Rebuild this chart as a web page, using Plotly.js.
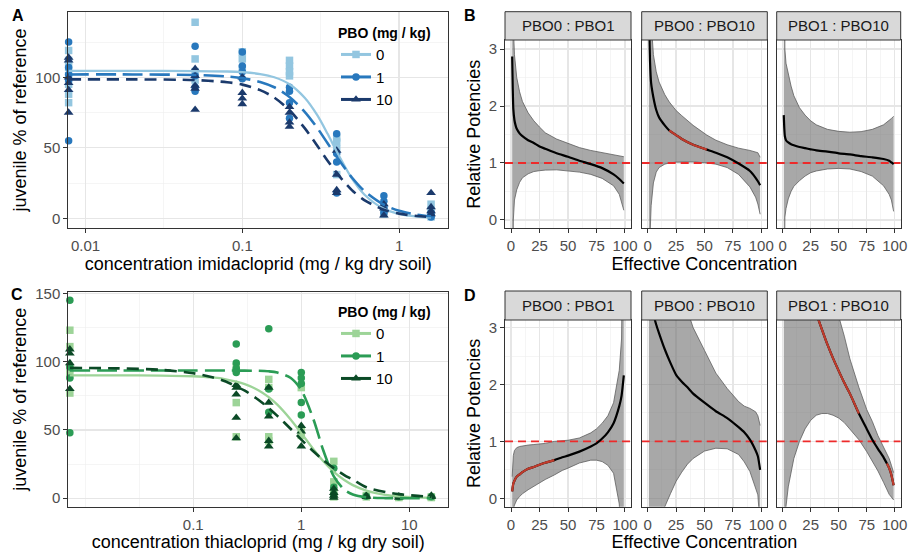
<!DOCTYPE html>
<html><head><meta charset="utf-8">
<script src="https://cdn.plot.ly/plotly-3.0.1.min.js"></script>
<style>html,body{margin:0;padding:0;background:#fff}#chart{width:912px;height:552px}</style>
</head><body><div id="chart"></div>
<script>
// ================= DATA =================
// Panel A: imidacloprid (control plotted at left edge)
const imiX0 = [0.0078,0.0078,0.0078,0.0078,0.0078,0.0078,0.0078, 0.05,0.05,0.05,0.05, 0.1,0.1,0.1, 0.2,0.2,0.2,0.2, 0.4,0.4,0.4,0.4, 0.8,0.8,0.8, 1.6,1.6,1.6,1.6];
const imiY0 = [119,112,107,101,95,88,82, 139,113,104,98, 118,113,106, 112,108,104,101, 57,54,49,31, 7,5,3, 10,6,3,1];
const imiX1 = [0.0078,0.0078,0.0078,0.0078,0.0078, 0.05,0.05,0.05,0.05, 0.1,0.1,0.1,0.1, 0.2,0.2,0.2,0.2, 0.4,0.4,0.4,0.4, 0.8,0.8,0.8,0.8, 1.6,1.6,1.6];
const imiY1 = [125,107,102,98,55, 122,101,93,90, 118,108,104,99, 93,90,82,71, 60,46,40,18, 16,12,8,4, 4,2,1];
const imiX10 = [0.0078,0.0078,0.0078,0.0078,0.0078,0.0078, 0.05,0.05,0.05,0.05,0.05, 0.1,0.1,0.1,0.1, 0.2,0.2,0.2,0.2, 0.4,0.4,0.4,0.4, 0.8,0.8,0.8, 1.6,1.6,1.6,1.6];
const imiY10 = [114,112,100,96,91,75, 106,101,94,92,77, 100,89,85,81, 79,75,68,65, 48,31,20,18, 10,7,2, 18,8,5,3];
// fitted curves panel A
const imiCurveX = [0.0078,0.02,0.05,0.08,0.1,0.13,0.16,0.2,0.25,0.3,0.35,0.4,0.5,0.6,0.8,1.0,1.3,1.6];
const imiFit0  = [104.5,104.5,104.4,104.1,103.6,102.3,100.0,95.1,85.5,73.3,59.9,47.4,28.3,16.9,6.7,3.1,1.2,0.6];
const imiFit1  = [102,102,101.6,100.6,99.4,96.7,92.9,86.0,75.5,64.2,53.2,43.6,28.9,19.4,9.6,5.3,2.6,1.4];
const imiFit10 = [98.5,98.5,98.0,96.5,94.8,90.9,85.6,76.6,63.9,51.6,40.8,32.1,20.0,12.9,6.1,3.3,1.6,0.9];

// Panel C: thiacloprid
const thiX0 = [0.0072,0.0072,0.0072,0.0072,0.0072, 0.25,0.25,0.25, 0.5,0.5,0.5,0.5, 1,1,1, 2,2,2,2, 4,4, 8,8, 16,16];
const thiY0 = [123,111,95,90,77, 96,70,45, 87,81,45,42, 81,50,46, 27,12,5,1, 2,1, 1,0.5, 1,0.5];
const thiX1 = [0.0072,0.0072,0.0072,0.0072, 0.25,0.25,0.25,0.25, 0.5,0.5,0.5, 1,1,1,1,1, 2,2,2, 4, 8, 16];
const thiY1 = [145,96,88,48, 113,99,95,92, 124,80,63, 92,88,84,70,61, 22,8,3, 1.5, 1, 1];
const thiX10 = [0.0072,0.0072,0.0072,0.0072, 0.25,0.25,0.25,0.25,0.25, 0.5,0.5,0.5,0.5,0.5, 1,1,1, 2,2,2,2, 4,4, 8,8, 16,16];
const thiY10 = [109,106,99,80, 83,81,76,59,44, 81,70,60,42,38, 53,49,38, 7,4,2,0.5, 2,1, 1.5,0.5, 2,1];
const thiCurveX = [0.0072,0.02,0.05,0.1,0.15,0.2,0.3,0.4,0.5,0.6,0.8,1.0,1.3,1.6,2,2.5,3,4,6,8,12,16];
const thiFit0  = [90,90,89.8,89.3,88.4,87.1,83.6,79.1,74.0,68.5,57.5,47.6,35.7,27.1,19.3,13.3,9.6,5.6,2.5,1.4,0.6,0.35];
const thiFit1  = [93.5,93.5,93.5,93.5,93.5,93.5,93.4,93.3,92.9,92.0,88.0,79.2,57.5,34.9,16.0,6.3,2.7,0.7,0.1,0.05,0.01,0];
const thiFit10 = [95.4,95.1,94.0,91.5,88.6,85.4,78.7,72.1,66.0,60.3,50.7,42.9,34.2,27.9,22.0,17.0,13.6,8.0,4.5,3.0,1.7,1.1];

const pboLevels = ['0','1','10'];

// Panels B / D: relative potencies vs effective concentration
const refLevel = 1;
const ecB1 = [1,1.5,2,3,4,5,7.5,10,15,20,25,30,40,50,60,70,80,90,95,99];
const rpB1 = [2.87,2.3,1.95,1.75,1.66,1.6,1.52,1.47,1.40,1.35,1.29,1.25,1.17,1.11,1.04,0.98,0.91,0.80,0.72,0.64];
const upB1 = [8,4.5,3.4,2.9,2.65,2.5,2.25,2.08,1.88,1.74,1.63,1.53,1.42,1.34,1.27,1.22,1.18,1.15,1.13,1.11];
const loB1 = [-3,-0.5,0.0,0.35,0.45,0.53,0.66,0.74,0.81,0.85,0.865,0.875,0.88,0.865,0.84,0.80,0.73,0.60,0.45,0.17];
const sigB1 = [];

const ecB2 = [1,1.5,2,3,5,7.5,10,15,19,25,30,40,52,60,70,80,90,95,97,99];
const rpB2 = [4.5,3.3,2.8,2.4,2.15,1.93,1.8,1.66,1.57,1.49,1.42,1.32,1.235,1.18,1.10,0.99,0.86,0.74,0.68,0.61];
const upB2 = [10,6,4.5,3.5,2.9,2.6,2.42,2.2,2.07,1.92,1.83,1.66,1.49,1.40,1.32,1.26,1.22,1.2,1.18,1.1];
const loB2 = [-3,-1,-0.3,0.25,0.65,0.84,0.92,0.98,1.0,1.015,1.02,1.02,1.0,0.98,0.92,0.80,0.58,0.40,0.28,0.1];
const sigB2 = [[19,52]];

const ecB3 = [1,1.5,2,3,5,7.5,10,15,20,25,30,40,50,60,70,80,90,95,97,99];
const rpB3 = [1.84,1.6,1.47,1.40,1.36,1.33,1.31,1.28,1.26,1.24,1.22,1.20,1.17,1.15,1.12,1.10,1.07,1.04,1.01,0.98];
const upB3 = [10,3.3,3.0,2.75,2.55,2.35,2.18,1.97,1.84,1.74,1.67,1.59,1.555,1.54,1.55,1.59,1.67,1.74,1.78,1.82];
const loB3 = [-3,-0.2,0.05,0.2,0.37,0.5,0.59,0.69,0.77,0.83,0.86,0.895,0.905,0.895,0.85,0.77,0.6,0.45,0.35,0.15];
const sigB3 = [];

const ecD1 = [1,1.5,2,3,5,7.5,10,15,20,25,30,38,45,50,60,70,75,80,85,90,95,97,99];
const rpD1 = [0.12,0.2,0.26,0.31,0.38,0.42,0.46,0.52,0.55,0.59,0.625,0.67,0.72,0.75,0.82,0.91,0.965,1.05,1.16,1.32,1.62,1.8,2.16];
const upD1 = [0.38,0.6,0.75,0.84,0.89,0.91,0.92,0.935,0.945,0.95,0.965,1.0,1.01,1.02,1.06,1.15,1.22,1.32,1.45,1.68,2.25,2.8,6];
const loD1 = [-1,-0.5,-0.2,-0.12,-0.03,0.03,0.08,0.15,0.21,0.27,0.33,0.41,0.49,0.53,0.62,0.67,0.67,0.645,0.58,0.44,-0.1,-1,-5];
const sigD1 = [[1,38]];

const ecD2 = [1,3,5,7.5,10,15,20,25,30,35,40,50,60,70,80,85,90,95,97,99];
const rpD2 = [5,3.7,3.25,3.05,2.9,2.62,2.38,2.17,2.05,1.95,1.84,1.68,1.53,1.41,1.25,1.16,1.03,0.84,0.74,0.5];
const upD2 = [20,14,10,8,7,5.5,4.6,4.0,3.6,3.3,3.0,2.6,2.2,1.93,1.7,1.62,1.58,1.52,1.45,1.28];
const loD2 = [-10,-6,-3,-1.8,-0.9,-0.15,0.08,0.3,0.46,0.6,0.7,0.83,0.88,0.87,0.77,0.64,0.47,0.2,0.06,-0.5];
const sigD2 = [];

const ecD3 = [1,2,3,5,7.5,10,15,20,25,30,35,40,45,50,55,60,68,75,80,85,90,93,95,97,99];
const rpD3 = [8,7,6.3,5.5,5,4.6,4.2,3.9,3.55,3.25,2.97,2.7,2.46,2.24,2.03,1.84,1.49,1.22,1.03,0.87,0.72,0.61,0.53,0.41,0.23];
const upD3 = [20,18,16,13,11,9.5,7.5,6.3,5.4,4.7,4.2,3.8,3.5,3.2,2.85,2.45,1.95,1.56,1.35,1.1,0.9,0.79,0.7,0.58,0.45];
const loD3 = [-5,-1.5,-0.14,0.2,0.47,0.7,1.0,1.22,1.37,1.46,1.49,1.49,1.46,1.41,1.33,1.22,1.03,0.82,0.66,0.48,0.28,0.15,0.07,0.02,-0.03];
const sigD3 = [[1,68],[93,99]];

const facetLabels = ['PBO0 : PBO1','PBO0 : PBO10','PBO1 : PBO10'];

// ================= STYLE / BUILD =================
const FONT = 'Liberation Sans, Arial, Helvetica, sans-serif';
const blues = ['#93c6e0', '#2878bd', '#1b3a6c'];
const greens = ['#9dd498', '#2b9c55', '#0b4a26'];
const symbols = ['square', 'circle', 'triangle-up'];
const msizes = [7.5, 7.5, 8.5];
const dashes = ['solid', '20px,7px', '12px,7px'];
const effRange = [-5.3, 105.3];

const traces = [];

function dosePanel(xa, ya, xs, ys, curveX, fits, cols, legendId) {
  for (let g = 0; g < 3; g++) {
    traces.push({type:'scatter', mode:'markers', x: xs[g], y: ys[g], xaxis: xa, yaxis: ya,
      marker:{symbol: symbols[g], size: msizes[g], color: cols[g], line:{width:0}},
      cliponaxis:false, showlegend:false, hoverinfo:'skip'});
  }
  for (let g = 0; g < 3; g++) {
    traces.push({type:'scatter', mode:'lines', x: curveX, y: fits[g], xaxis: xa, yaxis: ya,
      line:{color: cols[g], width: g === 0 ? 2.3 : 2.6, dash: dashes[g], shape:'spline', smoothing:0.8},
      showlegend:false, hoverinfo:'skip'});
  }
  for (let g = 0; g < 3; g++) {
    traces.push({type:'scatter', mode:'lines+markers', x:[null], y:[null], xaxis: xa, yaxis: ya,
      name: pboLevels[g], legend: legendId,
      line:{color: cols[g], width: 3}, marker:{symbol: symbols[g], size: msizes[g], color: cols[g]},
      showlegend:true});
  }
}
dosePanel('x','y',[imiX0,imiX1,imiX10],[imiY0,imiY1,imiY10],imiCurveX,[imiFit0,imiFit1,imiFit10],blues,'legend');
dosePanel('x5','y5',[thiX0,thiX1,thiX10],[thiY0,thiY1,thiY10],thiCurveX,[thiFit0,thiFit1,thiFit10],greens,'legend2');

function rpFacet(xa, ya, ec, rp, up, lo, sig) {
  traces.push({type:'scatter', mode:'lines', x: ec, y: up, xaxis: xa, yaxis: ya,
    line:{color:'#5e5e5e', width:0.8}, showlegend:false, hoverinfo:'skip'});
  traces.push({type:'scatter', mode:'lines', x: ec, y: lo, xaxis: xa, yaxis: ya, fill:'tonexty',
    fillcolor:'rgba(105,105,105,0.58)', line:{color:'#5e5e5e', width:0.8}, showlegend:false, hoverinfo:'skip'});
  traces.push({type:'scatter', mode:'lines', x: effRange, y: [refLevel, refLevel], xaxis: xa, yaxis: ya,
    line:{color:'#ee2a2a', width:1.8, dash:'8px,5px'}, showlegend:false, hoverinfo:'skip'});
  traces.push({type:'scatter', mode:'lines', x: ec, y: rp, xaxis: xa, yaxis: ya,
    line:{color:'#000000', width:2.2, shape:'spline', smoothing:0.5}, showlegend:false, hoverinfo:'skip'});
  sig.forEach(function(iv){
    const sx = [], sy = [];
    ec.forEach(function(v, i){ if (v >= iv[0] && v <= iv[1]) { sx.push(v); sy.push(rp[i]); } });
    traces.push({type:'scatter', mode:'lines', x: sx, y: sy, xaxis: xa, yaxis: ya,
      line:{color:'#bf3b2c', width:2.2, shape:'spline', smoothing:0.5}, showlegend:false, hoverinfo:'skip'});
  });
}
rpFacet('x2','y2',ecB1,rpB1,upB1,loB1,sigB1);
rpFacet('x3','y3',ecB2,rpB2,upB2,loB2,sigB2);
rpFacet('x4','y4',ecB3,rpB3,upB3,loB3,sigB3);
rpFacet('x6','y6',ecD1,rpD1,upD1,loD1,sigD1);
rpFacet('x7','y7',ecD2,rpD2,upD2,loD2,sigD2);
rpFacet('x8','y8',ecD3,rpD3,upD3,loD3,sigD3);

// ---------- layout ----------
const W = 912, H = 552;
const px = v => v / W, py = v => 1 - v / H;
const tickFont = {family: FONT, size: 15, color: '#4d4d4d'};
const titleFont = {family: FONT, size: 18, color: '#000'};
const minorGrid = {showgrid:true, gridcolor:'#eeeeee', gridwidth:0.6, ticks:''};
function ax(extra) {
  return Object.assign({
    showline:true, mirror:true, linecolor:'#333333', linewidth:1,
    ticks:'outside', ticklen:4, tickwidth:1, tickcolor:'#333333',
    showgrid:true, gridcolor:'#e6e6e6', gridwidth:1.3, zeroline:false,
    tickfont: tickFont, fixedrange:true, automargin:false
  }, extra);
}

const layout = {
  width: W, height: H, margin:{l:0,r:0,t:0,b:0}, paper_bgcolor:'#fff', plot_bgcolor:'#fff',
  font:{family: FONT}, showlegend:true, hovermode:false,
  // Panel A
  xaxis: ax({type:'log', domain:[px(68.3), px(448.3)], range:[-2.11, 0.314], anchor:'y',
    tickmode:'array', tickvals:[0.01,0.1,1], ticktext:['0.01','0.1','1'],
    minor: Object.assign({tickvals:[0.0316228,0.316228]}, minorGrid),
    title:{text:'concentration imidacloprid (mg / kg dry soil)', font: titleFont, standoff: 3}}),
  yaxis: ax({domain:[py(228.3), py(11.7)], range:[-7.1, 146.5], anchor:'x',
    tickmode:'array', tickvals:[0,50,100], minor: Object.assign({tickvals:[25,75,125]}, minorGrid),
    title:{text:'juvenile % of reference', font: titleFont, standoff: 3}}),
  // Panel C
  xaxis5: ax({type:'log', domain:[px(68.3), px(448.3)], range:[-2.157, 1.361], anchor:'y5',
    tickmode:'array', tickvals:[0.1,1,10], ticktext:['0.1','1','10'],
    minor: Object.assign({tickvals:[0.01,0.0316228,0.316228,3.16228]}, minorGrid),
    title:{text:'concentration thiacloprid (mg / kg dry soil)', font: titleFont, standoff: 3}}),
  yaxis5: ax({domain:[py(506.7), py(291.7)], range:[-6.2, 151.2], anchor:'x5',
    tickmode:'array', tickvals:[0,50,100,150], minor: Object.assign({tickvals:[25,75,125]}, minorGrid),
    title:{text:'juvenile % of reference', font: titleFont, standoff: 3}}),
  legend: {x: px(336), y: py(20), xanchor:'left', yanchor:'top', bgcolor:'rgba(0,0,0,0)', borderwidth:0,
    traceorder:'normal',
    title:{text:'<b>PBO (mg / kg)</b>', font:{family:FONT, size:14, color:'#000'}},
    font:{family:FONT, size:15, color:'#000'}},
  legend2: {x: px(336), y: py(299), xanchor:'left', yanchor:'top', bgcolor:'rgba(0,0,0,0)', borderwidth:0,
    traceorder:'normal',
    title:{text:'<b>PBO (mg / kg)</b>', font:{family:FONT, size:14, color:'#000'}},
    font:{family:FONT, size:15, color:'#000'}},
  shapes: [], annotations: []
};

const facetX = [[505, 631], [641.7, 767.3], [776.7, 900.7]];
const rows = [
  {ids:[2,3,4], plot:[40, 228.3], strip:[11.7, 40], yr:[-0.146, 3.158]},
  {ids:[6,7,8], plot:[320, 506.7], strip:[291, 320], yr:[-0.148, 3.134]}
];
rows.forEach(function(r){
  r.ids.forEach(function(id, j){
    const xk = 'xaxis' + id, yk = 'yaxis' + id;
    layout[xk] = ax({domain:[px(facetX[j][0]), px(facetX[j][1])], range: effRange, anchor:'y'+id,
      tickmode:'array', tickvals:[0,25,50,75,100], tickfont:{family:FONT, size:15, color:'#4d4d4d'},
      minor: Object.assign({tickvals:[12.5,37.5,62.5,87.5]}, minorGrid),
      title: j === 1 ? {text:'Effective Concentration', font: titleFont, standoff: 3} : {text:''}});
    layout[yk] = ax({domain:[py(r.plot[1]), py(r.plot[0])], range: r.yr, anchor:'x'+id,
      tickmode:'array', tickvals:[0,1,2,3], minor: Object.assign({tickvals:[0.5,1.5,2.5]}, minorGrid),
      showticklabels: j === 0, ticks: j === 0 ? 'outside' : '',
      title: j === 0 ? {text:'Relative Potencies', font: titleFont, standoff: 3} : {text:''}});
    layout.shapes.push({type:'rect', xref:'x'+id+' domain', x0:0, x1:1, yref:'paper',
      y0: py(r.strip[1]), y1: py(r.strip[0]), fillcolor:'#d9d9d9', line:{color:'#333333', width:1}});
    layout.annotations.push({xref:'x'+id+' domain', x:0.5, yref:'paper', y: py((r.strip[0]+r.strip[1])/2),
      text: facetLabels[j], showarrow:false, xanchor:'center', yanchor:'middle',
      font:{family:FONT, size:15, color:'#1a1a1a'}});
  });
});

[['A',18.3,15.3],['B',470,15.7],['C',16.5,294.5],['D',470,295.3]].forEach(function(l){
  layout.annotations.push({xref:'paper', yref:'paper', x: px(l[1]), y: py(l[2]), text:'<b>'+l[0]+'</b>',
    showarrow:false, xanchor:'center', yanchor:'middle', font:{family:FONT, size:16, color:'#000'}});
});

Plotly.newPlot('chart', traces, layout, {staticPlot:true, displayModeBar:false});
</script>
</body></html>
